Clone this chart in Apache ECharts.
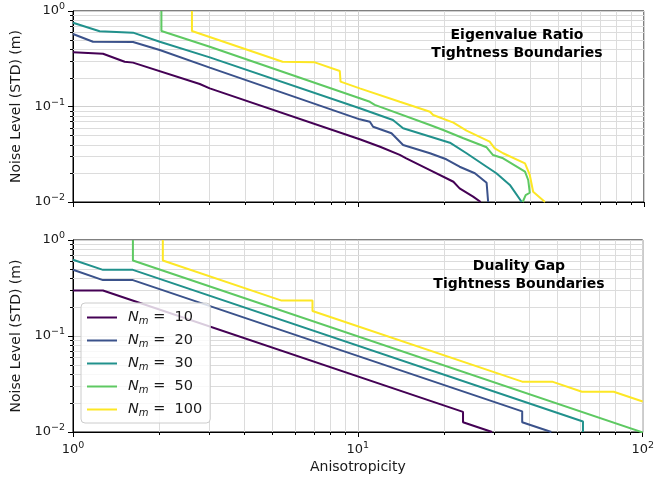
<!DOCTYPE html>
<html><head><meta charset="utf-8">
<script src="https://cdn.jsdelivr.net/npm/echarts@6/dist/echarts.min.js"></script>
<style>html,body{margin:0;padding:0;background:#fff}#c{width:657px;height:483px}</style>
</head><body><div id="c"></div>
<script>
// ---------- data ----------
const nmValues = [10, 20, 30, 50, 100];
const colors = ['#440154', '#3b528b', '#21918c', '#5ec962', '#fde725'];

// Eigenvalue Ratio tightness boundaries  [anisotropicity, noise std]
const eig10 = [[1,0.369],[1.274,0.357],[1.517,0.294],[1.623,0.288],[2.78,0.172],[3.013,0.155],[10.1,0.0454],[11.9,0.0379],[13.95,0.0311],[14.7,0.0287],[17.8,0.0216],[21.5,0.0163],[22.6,0.0139],[25.2,0.0114],[26.8,0.01]];
const eig20 = [[1,0.574],[1.175,0.477],[1.623,0.473],[2.013,0.391],[3.013,0.255],[10.1,0.0734],[10.96,0.0693],[11.25,0.0614],[13.05,0.0524],[14.33,0.0395],[17.8,0.0324],[20.3,0.028],[22.6,0.0234],[25.56,0.02],[28.1,0.0159],[28.45,0.01]];
const eig30 = [[1,0.754],[1.24,0.613],[1.623,0.593],[2.013,0.477],[3.013,0.327],[10.1,0.0958],[13.2,0.0722],[14.33,0.0591],[20.9,0.0418],[23.9,0.0324],[28.1,0.0234],[30.4,0.02],[33.9,0.0151],[37.3,0.01]];
const eig50 = [[2.04,1],[2.04,0.617],[3.013,0.423],[10.1,0.122],[10.96,0.112],[11.4,0.104],[17.8,0.064],[19.8,0.0567],[23.3,0.0465],[28.1,0.0374],[29.6,0.031],[32.1,0.0287],[38.3,0.0208],[39.3,0.017],[39.8,0.0125],[38.5,0.0118],[37.6,0.01]];
const eig100 = [[2.61,1],[2.61,0.617],[5.42,0.294],[7.03,0.29],[8.6,0.235],[8.65,0.182],[10.1,0.155],[13.95,0.112],[17.8,0.0882],[18.26,0.0815],[21.5,0.0677],[23.9,0.0558],[28.8,0.0428],[30.0,0.0365],[32.1,0.0324],[38.3,0.0254],[39.8,0.0192],[40.9,0.0128],[45.0,0.01]];

// Duality Gap tightness boundaries
const dg10 = [[1,0.298],[1.274,0.298],[23.4,0.0162],[23.4,0.01265],[29.6,0.01]];
const dg20 = [[1,0.49],[1.274,0.382],[1.623,0.382],[37.75,0.01642],[37.75,0.01265],[47.8,0.01]];
const dg30 = [[1,0.622],[1.274,0.489],[1.623,0.489],[61.7,0.01286],[61.7,0.01]];
const dg50 = [[1.623,1],[1.623,0.611],[100,0.0099]];
const dg100 = [[2.067,1],[2.067,0.611],[5.37,0.235],[6.93,0.235],[6.93,0.182],[37.75,0.03346],[48.1,0.03346],[61.2,0.0263],[79.1,0.0263],[100,0.0208]];

const xMinor = [2,3,4,5,6,7,8,9,20,30,40,50,60,70,80,90];
const yMinor = [0.02,0.03,0.04,0.05,0.06,0.07,0.08,0.09,0.2,0.3,0.4,0.5,0.6,0.7,0.8,0.9];
const panelTitles = ['Eigenvalue Ratio\nTightness Boundaries', 'Duality Gap\nTightness Boundaries'];
const xName = 'Anisotropicity';
const yName = 'Noise Level (STD) (m)';

// ---------- chart ----------
const FONT = 'DejaVu Sans';
const TXT = '#1a1a1a';
const seriesNames = nmValues.map(v => 'N_m = ' + v);
const eigSets = [eig10, eig20, eig30, eig50, eig100];
const dgSets = [dg10, dg20, dg30, dg50, dg100];

function powLabel(v) {
  const e = Math.round(Math.log10(v));
  return '{b|10}{e|' + (e < 0 ? '\u2212' + (-e) : e) + '}';
}
const labelRich = {
  b: {fontSize: 13, fontFamily: FONT, color: TXT},
  e: {fontSize: 9.5, fontFamily: FONT, color: TXT, padding: [0, 0, 8, 0]}
};

function makeX(idx, showLabel) {
  return {
    type: 'log', logBase: 10, min: 1, max: 100, gridIndex: idx,
    axisLine: {show: true, onZero: false, lineStyle: {color: '#000', width: 1}},
    axisTick: {show: true, length: 5, lineStyle: {color: '#000'}},
    splitLine: {show: true, lineStyle: {color: '#d0d0d0', width: 1}},
    axisLabel: {show: showLabel, margin: 9, formatter: powLabel, rich: labelRich},
    name: showLabel ? xName : '', nameLocation: 'middle', nameGap: 28,
    nameTextStyle: {fontSize: 14, fontFamily: FONT, color: TXT}
  };
}
function makeY(idx) {
  return {
    type: 'log', logBase: 10, min: 0.01, max: 1, gridIndex: idx,
    axisLine: {show: true, onZero: false, lineStyle: {color: '#000', width: 1}},
    axisTick: {show: true, length: 5, lineStyle: {color: '#000'}},
    splitLine: {show: true, lineStyle: {color: '#d0d0d0', width: 1}},
    axisLabel: {show: true, margin: 8, formatter: powLabel, rich: labelRich},
    name: yName, nameLocation: 'middle', nameGap: 47, nameRotate: 90,
    nameTextStyle: {fontSize: 14, fontFamily: FONT, color: TXT}
  };
}

function minorSeries(idx) {
  const data = xMinor.map(v => [v, 0.5, 0]).concat(yMinor.map(v => [2, v, 1]));
  return {
    type: 'custom', xAxisIndex: idx, yAxisIndex: idx, silent: true, clip: false, z: 1,
    data: data,
    renderItem: function (params, api) {
      const isX = api.value(2) === 0;
      const v = isX ? api.value(0) : api.value(1);
      const gs = {stroke: '#dcdcdc', lineWidth: 1};
      const ts = {stroke: '#000', lineWidth: 1};
      if (isX) {
        const a = api.coord([v, 1]), b = api.coord([v, 0.01]);
        const x = Math.round(a[0]) + 0.5;
        return {type: 'group', children: [
          {type: 'line', shape: {x1: x, y1: a[1], x2: x, y2: b[1]}, style: gs},
          {type: 'line', shape: {x1: x, y1: b[1], x2: x, y2: b[1] + 3}, style: ts}
        ]};
      } else {
        const a = api.coord([1, v]), b = api.coord([100, v]);
        const y = Math.round(a[1]) + 0.5;
        return {type: 'group', children: [
          {type: 'line', shape: {x1: a[0], y1: y, x2: b[0], y2: y}, style: gs},
          {type: 'line', shape: {x1: a[0] - 3, y1: y, x2: a[0], y2: y}, style: ts}
        ]};
      }
    }
  };
}

const series = [minorSeries(0), minorSeries(1)];
[eigSets, dgSets].forEach((sets, idx) => {
  sets.forEach((d, i) => {
    series.push({
      type: 'line', name: seriesNames[i], xAxisIndex: idx, yAxisIndex: idx,
      data: d, showSymbol: false, symbol: 'none', z: 3,
      lineStyle: {color: colors[i], width: 2}, itemStyle: {color: colors[i]}
    });
  });
});

const chart = echarts.init(document.getElementById('c'), null, {renderer: 'canvas'});
chart.setOption({
  animation: false,
  backgroundColor: '#fff',
  grid: [
    {left: 73, right: 13, top: 11, height: 191, show: true, borderColor: '#000', borderWidth: 1},
    {left: 73, right: 13, top: 240, height: 192, show: true, borderColor: '#000', borderWidth: 1}
  ],
  xAxis: [makeX(0, false), makeX(1, true)],
  yAxis: [makeY(0), makeY(1)],
  legend: {
    data: seriesNames, orient: 'vertical', left: 81, top: 303, z: 20,
    icon: 'rect', itemWidth: 30, itemHeight: 2, itemGap: 6,
    padding: [6, 8, 5, 6],
    backgroundColor: 'rgba(255,255,255,0.8)', borderColor: '#cccccc', borderWidth: 1, borderRadius: 4,
    formatter: function (name) {
      return '{i|N}{s|m}{t| =  ' + name.split('= ')[1] + '}';
    },
    textStyle: {
      rich: {
        i: {fontSize: 14.5, fontStyle: 'italic', fontFamily: FONT, color: TXT, lineHeight: 17, padding: [0, 0, 0, 6]},
        s: {fontSize: 10, fontStyle: 'italic', fontFamily: FONT, color: TXT, lineHeight: 17, padding: [7, 0, 0, 0]},
        t: {fontSize: 14.5, fontFamily: FONT, color: TXT, lineHeight: 17}
      }
    }
  },
  graphic: [
    {type: 'text', x: 517, y: 26, z: 10, style: {text: panelTitles[0], align: 'center', verticalAlign: 'top', font: 'bold 14px "DejaVu Sans"', lineHeight: 18.5, fill: '#000'}},
    {type: 'text', x: 519, y: 257, z: 10, style: {text: panelTitles[1], align: 'center', verticalAlign: 'top', font: 'bold 14px "DejaVu Sans"', lineHeight: 18.5, fill: '#000'}}
  ],
  series: series
});
</script>
</body></html>
